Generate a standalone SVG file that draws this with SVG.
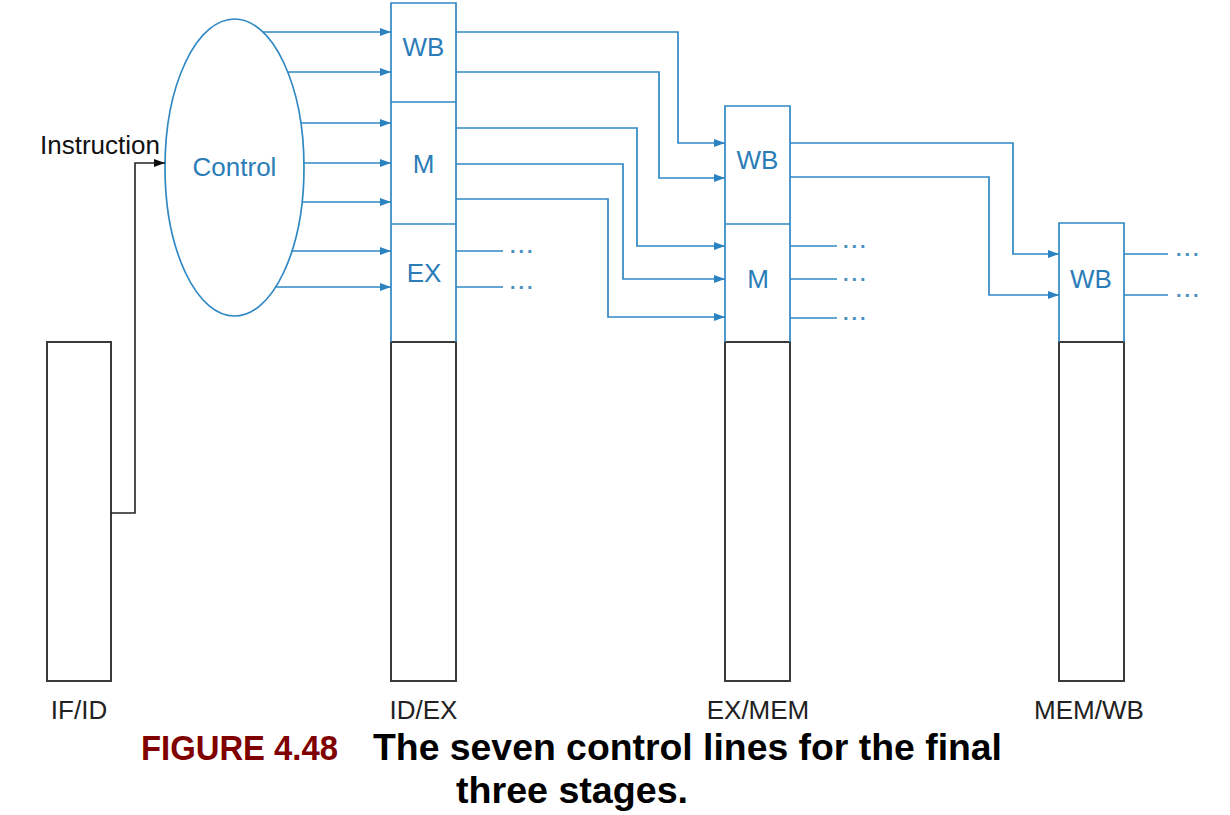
<svg xmlns="http://www.w3.org/2000/svg" width="1230" height="815" viewBox="0 0 1230 815">
<defs>
<style>
.bl{fill:none;stroke:#3088c3;stroke-width:1.7}
.bk{fill:none;stroke:#3a3a3a;stroke-width:2}
.wire{fill:none;stroke:#3088c3;stroke-width:1.7}
.bt{font-family:"Liberation Sans",Arial,sans-serif;font-size:26px;fill:#2b7db8;text-anchor:middle}
.lab{font-family:"Liberation Sans",Arial,sans-serif;font-size:26px;fill:#222;text-anchor:middle}
.dots{font-family:"Liberation Sans",Arial,sans-serif;font-size:20px;font-weight:bold;fill:#4a8fbf;letter-spacing:3px}
</style>
<marker id="ab" markerUnits="userSpaceOnUse" markerWidth="11" markerHeight="8" refX="11" refY="4" orient="auto">
<path d="M0,0 L11,4 L0,8 z" fill="#2b82c0"/>
</marker>
<marker id="ak" markerUnits="userSpaceOnUse" markerWidth="11" markerHeight="8" refX="11" refY="4" orient="auto">
<path d="M0,0 L11,4 L0,8 z" fill="#111"/>
</marker>
</defs>
<rect width="1230" height="815" fill="#fff"/>

<g id="control">
<ellipse class="bl" cx="234.5" cy="167.5" rx="69.5" ry="148.5"/>
<text class="bt" x="234.5" y="176">Control</text>
</g>

<g id="ifid">
<rect class="bk" x="47" y="342" width="64" height="339"/>
<text class="lab" x="79" y="719">IF/ID</text>
</g>

<g id="idex">
<path class="bk" d="M391,342 H456 V681 H391 Z"/>
<path class="bl" d="M391,342 V3 H456 V342 M391,102 H456 M391,224 H456"/>
<text class="bt" x="423.5" y="56">WB</text>
<text class="bt" x="423.5" y="173">M</text>
<text class="bt" x="424" y="282">EX</text>
<text class="lab" x="423.5" y="719">ID/EX</text>
</g>

<g id="exmem">
<path class="bk" d="M725,342 H790 V681 H725 Z"/>
<path class="bl" d="M725,342 V106 H790 V342 M725,224 H790"/>
<text class="bt" x="757.5" y="169">WB</text>
<text class="bt" x="758" y="288">M</text>
<text class="lab" x="758" y="719">EX/MEM</text>
</g>

<g id="memwb">
<path class="bk" d="M1059,342 H1124 V681 H1059 Z"/>
<path class="bl" d="M1059,342 V223 H1124 V342"/>
<text class="bt" x="1091" y="288">WB</text>
<text class="lab" x="1089" y="719">MEM/WB</text>
</g>

<g id="connectors">
<text x="40" y="154" font-family="'Liberation Sans',Arial,sans-serif" font-size="26" fill="#111">Instruction</text>
<polyline class="bk" style="stroke-width:1.6;stroke:#222" points="111,513 135,513 135,163 165,163" marker-end="url(#ak)"/>

<line class="wire" x1="263" y1="32" x2="391" y2="32" marker-end="url(#ab)"/>
<line class="wire" x1="287" y1="72" x2="391" y2="72" marker-end="url(#ab)"/>
<line class="wire" x1="301" y1="123" x2="391" y2="123" marker-end="url(#ab)"/>
<line class="wire" x1="304" y1="163" x2="391" y2="163" marker-end="url(#ab)"/>
<line class="wire" x1="302" y1="202" x2="391" y2="202" marker-end="url(#ab)"/>
<line class="wire" x1="291" y1="251" x2="391" y2="251" marker-end="url(#ab)"/>
<line class="wire" x1="276" y1="287" x2="391" y2="287" marker-end="url(#ab)"/>

<polyline class="wire" points="456,32 678,32 678,143 725,143" marker-end="url(#ab)"/>
<polyline class="wire" points="456,72 659,72 659,178 725,178" marker-end="url(#ab)"/>
<polyline class="wire" points="456,128 637,128 637,246 725,246" marker-end="url(#ab)"/>
<polyline class="wire" points="456,164 623,164 623,279 725,279" marker-end="url(#ab)"/>
<polyline class="wire" points="456,199 608,199 608,317 725,317" marker-end="url(#ab)"/>

<line class="wire" x1="456" y1="251" x2="503" y2="251"/>
<line class="wire" x1="456" y1="287" x2="503" y2="287"/>
<text class="dots" x="510" y="253">...</text>
<text class="dots" x="510" y="289">...</text>

<polyline class="wire" points="790,143 1013,143 1013,254 1059,254" marker-end="url(#ab)"/>
<polyline class="wire" points="790,177 989,177 989,295 1059,295" marker-end="url(#ab)"/>

<line class="wire" x1="790" y1="246" x2="837" y2="246"/>
<line class="wire" x1="790" y1="279" x2="837" y2="279"/>
<line class="wire" x1="790" y1="318" x2="837" y2="318"/>
<text class="dots" x="843" y="248">...</text>
<text class="dots" x="843" y="281">...</text>
<text class="dots" x="843" y="320">...</text>

<line class="wire" x1="1124" y1="254" x2="1168" y2="254"/>
<line class="wire" x1="1124" y1="295" x2="1168" y2="295"/>
<text class="dots" x="1176" y="256">...</text>
<text class="dots" x="1176" y="297">...</text>
</g>

<g id="caption" font-family="'Liberation Sans',Arial,sans-serif" font-weight="bold">
<text x="141" y="760" font-size="35" fill="#800000" textLength="197" lengthAdjust="spacingAndGlyphs">FIGURE 4.48</text>
<text x="373" y="760" font-size="36" fill="#000" textLength="629" lengthAdjust="spacingAndGlyphs">The seven control lines for the final</text>
<text x="456" y="803" font-size="36" fill="#000" textLength="232" lengthAdjust="spacingAndGlyphs">three stages.</text>
</g>
</svg>
